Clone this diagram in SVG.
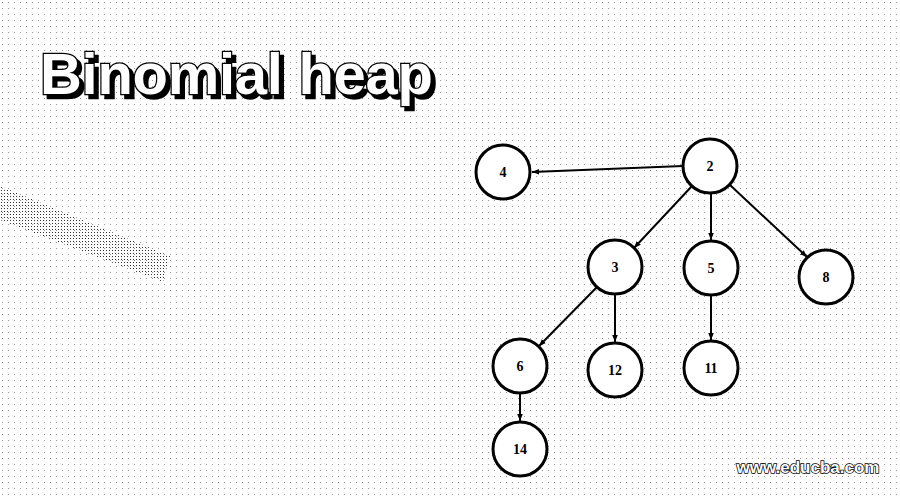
<svg xmlns="http://www.w3.org/2000/svg" width="900" height="500" viewBox="0 0 900 500">
<defs>
<pattern id="dots" width="6" height="6" patternUnits="userSpaceOnUse"><rect x="2" y="2" width="1" height="1" fill="#000"/></pattern>
<pattern id="dense" width="3" height="3" patternUnits="userSpaceOnUse"><rect x="1" y="1" width="1" height="1" fill="#000"/></pattern>
<marker id="arr" viewBox="0 0 10 10" refX="10" refY="5" markerWidth="7" markerHeight="7" markerUnits="userSpaceOnUse" orient="auto"><path d="M0,1 L10,5 L0,9 z" fill="#000"/></marker>
<filter id="shadow" x="-5%" y="-20%" width="115%" height="150%"><feDropShadow dx="4" dy="4" stdDeviation="0" flood-color="#000" flood-opacity="1"/></filter>
<style>
.node circle{fill:#fff;stroke:#000;stroke-width:3}
.node text{font-family:"Liberation Serif",serif;font-weight:bold;font-size:14px;text-anchor:middle;dominant-baseline:central;fill:#000}
.edge{stroke:#000;stroke-width:2;fill:none;marker-end:url(#arr)}
.title{font-family:"Liberation Sans",Arial,sans-serif;font-weight:bold;font-size:58px}
</style>
</defs>
<rect width="900" height="500" fill="#fff"/>
<rect width="900" height="500" fill="url(#dots)" opacity="0.4"/>
<polygon points="0,186 170,256 163,282 0,220" fill="url(#dense)" opacity="0.8"/>
<g id="title">
<text class="title" x="40" y="94" textLength="393" fill="#fff" stroke="#000" stroke-width="2.5" paint-order="stroke" filter="url(#shadow)">Binomial heap</text>
</g>
<g id="connectors">
<line class="edge" x1="683" y1="166" x2="532" y2="172"/>
<line class="edge" x1="692" y1="186" x2="634" y2="248"/>
<line class="edge" x1="711" y1="193" x2="711" y2="240"/>
<line class="edge" x1="730" y1="185" x2="807" y2="257"/>
<line class="edge" x1="597" y1="287" x2="539" y2="346"/>
<line class="edge" x1="615" y1="294" x2="615" y2="342"/>
<line class="edge" x1="711" y1="295" x2="711" y2="340"/>
<line class="edge" x1="520" y1="393" x2="520" y2="421"/>
</g>
<g id="n4" class="node"><circle cx="503" cy="172" r="27"/><text x="503" y="172">4</text></g>
<g id="n2" class="node"><circle cx="710" cy="166" r="27"/><text x="710" y="166">2</text></g>
<g id="n3" class="node"><circle cx="615" cy="267" r="27"/><text x="615" y="267">3</text></g>
<g id="n5" class="node"><circle cx="711" cy="268" r="27"/><text x="711" y="268">5</text></g>
<g id="n8" class="node"><circle cx="826" cy="277" r="27"/><text x="826" y="277">8</text></g>
<g id="n6" class="node"><circle cx="520" cy="366" r="27"/><text x="520" y="366">6</text></g>
<g id="n12" class="node"><circle cx="615" cy="370" r="27"/><text x="615" y="370">12</text></g>
<g id="n11" class="node"><circle cx="711" cy="368" r="27"/><text x="711" y="368">11</text></g>
<g id="n14" class="node"><circle cx="520" cy="449" r="27"/><text x="520" y="449">14</text></g>
<text x="808" y="473" font-family="Liberation Sans,Arial,sans-serif" font-weight="bold" font-size="17" text-anchor="middle" fill="#fff" stroke="#000" stroke-width="1.5" paint-order="stroke">www.educba.com</text>
</svg>
